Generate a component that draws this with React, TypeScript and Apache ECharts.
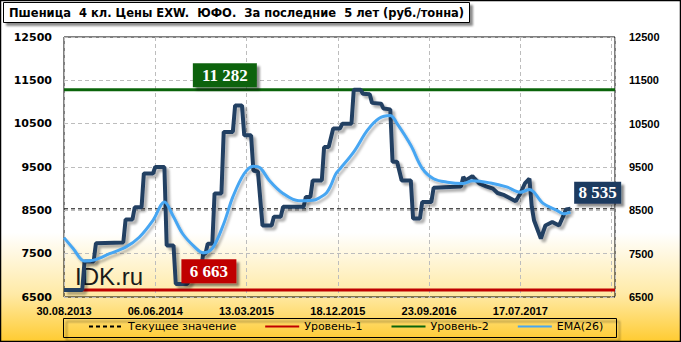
import React, { useEffect, useRef } from "react";
import * as echarts from "echarts";

// ---- data ----
const titleText = "Пшеница  4 кл. Цены EXW.  ЮФО.  За последние  5 лет (руб./тонна)";
const xTickLabels = ["30.08.2013", "06.06.2014", "13.03.2015", "18.12.2015", "23.09.2016", "17.07.2017"];
const weeksPerTick = 40;
const weekAxisMax = 241.5;
const yMin = 6500;
const yMax = 12500;
const yStep = 1000;

const priceWeeks = [
  0, 8, 9, 13, 14, 26, 27, 30, 31, 34, 35, 39, 40, 43, 44, 45, 48, 49, 54, 57, 60, 61, 62, 63, 65,
  66, 69, 70, 74, 75, 78, 79, 82, 83, 85, 87, 91, 92, 95, 96, 105, 106, 108, 109, 113, 114, 116,
  118, 121, 122, 126, 127, 130, 131, 134, 135, 139, 140, 143, 144, 146, 148, 152, 153, 156, 157,
  161, 162, 174, 175, 176, 179, 180, 182, 185, 188, 190, 193, 198, 200, 202, 204, 205, 206, 209,
  211, 214, 217, 219, 220, 222,
];
const priceValues = [
  6663, 6663, 7320, 7320, 7740, 7760, 8290, 8290, 8570, 8570, 9350, 9350, 9500, 9500, 9500, 7690,
  7690, 6800, 6800, 7100, 7100, 7500, 7500, 7730, 7730, 8890, 8890, 10310, 10310, 10920, 10920,
  10230, 10230, 9420, 9390, 8150, 8150, 8350, 8350, 8580, 8580, 8810, 8810, 9190, 9190, 9960, 9960,
  10390, 10390, 10500, 10500, 11282, 11282, 11190, 11180, 10980, 10960, 10850, 10830, 9620, 9620,
  9190, 9190, 8310, 8310, 8690, 8690, 9020, 9050, 9270, 9190, 9290, 9230, 9120, 9055, 9000, 8900,
  8850, 8710, 8890, 9120, 9230, 8590, 8270, 7850, 8150, 8230, 8150, 8390, 8520, 8535,
];

const emaWeeks = [
  0, 4, 9, 13, 20, 27, 33, 39, 44, 48, 52, 57, 61, 65, 70, 74, 79, 83, 86, 90, 96, 103, 109, 112,
  115, 117, 119, 121, 127, 133, 138, 143, 146, 152, 157, 162, 168, 175, 179, 187, 194, 200, 204,
  210, 216, 219, 222,
];
const emaValues = [
  7870, 7620, 7330, 7350, 7500, 7650, 7880, 8270, 8690, 8350, 7960, 7670, 7520, 7620, 8190, 8810,
  9350, 9520, 9480, 9190, 8890, 8720, 8730, 8790, 8900, 9080, 9330, 9460, 9850, 10350, 10620, 10690,
  10500, 10000, 9470, 9230, 9150, 9120, 9180, 9130, 9040, 8920, 8980, 8660, 8500, 8420, 8460,
];

const currentValue = 8535;
const level1 = 6663;
const level2 = 11282;

const seriesNames = ["Текущее значение", "Уровень-1", "Уровень-2", "EMA(26)"];

// ---- helpers ----
const fmt = (n: number) => String(n).replace(/\B(?=(\d{3})+(?!\d))/g, " ");
const pairs = (xs: number[], ys: number[]) => xs.map((x, i) => [x, ys[i]]);
const flat = (v: number) => [
  [0, v],
  [weekAxisMax, v],
];

const boxShadow = {
  shadowColor: "rgba(0,0,0,0.45)",
  shadowBlur: 2,
  shadowOffsetX: 3,
  shadowOffsetY: 3,
};

const labelPoint = (coord: number[], text: string, color: string, size: number[]) => ({
  coord,
  symbol: "rect",
  symbolSize: size,
  itemStyle: { color, ...boxShadow },
  label: {
    show: true,
    position: "inside",
    formatter: text,
    color: "#ffffff",
    fontFamily: "Liberation Serif",
    fontWeight: "bold",
    fontSize: 17,
  },
});

export default function App() {
  const ref = useRef<HTMLDivElement>(null);

  useEffect(() => {
    if (!ref.current) return;
    const chart = echarts.init(ref.current, null, { renderer: "svg" });

    const option: any = {
      animation: false,
      backgroundColor: new echarts.graphic.LinearGradient(0, 0, 0, 1, [
        { offset: 0, color: "#ffffff" },
        { offset: 0.68, color: "#ffffff" },
        { offset: 0.86, color: "#ffeaa6" },
        { offset: 1, color: "#ffcb30" },
      ]),
      title: {
        text: titleText,
        left: 3,
        top: 2,
        padding: [4, 6, 4, 6],
        backgroundColor: "#ffffff",
        borderColor: "#000000",
        borderWidth: 1,
        ...boxShadow,
        textStyle: {
          fontFamily: "DejaVu Sans",
          fontWeight: "bold",
          fontSize: 11.5,
          color: "#000000",
          lineHeight: 13,
        },
      },
      graphic: [
        {
          type: "rect",
          z: 0,
          shape: { x: 0.5, y: 0.5, width: 680, height: 341 },
          style: { fill: "none", stroke: "#000000", lineWidth: 1.5 },
        },
        {
          type: "rect",
          z: 0,
          shape: { x: 63.5, y: 318.5, width: 553, height: 19 },
          style: { fill: "none", stroke: "#000000", lineWidth: 1, ...boxShadow },
        },
        {
          type: "text",
          z: 3,
          x: 75,
          y: 276,
          style: {
            text: "IDK.ru",
            font: '24px "Liberation Sans"',
            fill: "#1a1a1a",
            verticalAlign: "middle",
          },
        },
      ],
      legend: {
        data: seriesNames,
        left: 88,
        top: 321,
        padding: 0,
        itemGap: 28,
        itemWidth: 34,
        itemHeight: 2,
        itemStyle: { opacity: 0 },
        textStyle: { fontFamily: "DejaVu Sans", fontSize: 11, color: "#000000", padding: [5, 0, 5, 0] },
      },
      grid: {
        left: 64,
        top: 37,
        width: 551,
        height: 260,
        show: true,
        borderColor: "#000000",
        borderWidth: 1,
        backgroundColor: "transparent",
      },
      xAxis: {
        type: "value",
        min: 0,
        max: weekAxisMax,
        interval: weeksPerTick,
        axisLine: { show: false },
        axisTick: { show: false },
        splitLine: { show: true, lineStyle: { color: "#bdbdbd", type: [4, 3], width: 1 } },
        axisLabel: {
          margin: 8,
          fontFamily: "Liberation Sans",
          fontWeight: "bold",
          fontSize: 11,
          color: "#000000",
          showMaxLabel: false,
          formatter: (v: number) => {
            const i = v / weeksPerTick;
            return Number.isInteger(i) && i < xTickLabels.length ? xTickLabels[i] : "";
          },
        },
      },
      yAxis: [
        {
          type: "value",
          position: "left",
          min: yMin,
          max: yMax,
          interval: yStep,
          axisLine: { show: false },
          axisTick: { show: false },
          splitLine: { show: true, lineStyle: { color: "#bdbdbd", type: [4, 3], width: 1 } },
          axisLabel: {
            margin: 12,
            fontFamily: "DejaVu Sans",
            fontWeight: "bold",
            fontSize: 11,
            color: "#000000",
            formatter: (v: number) => String(v),
          },
        },
        {
          type: "value",
          position: "right",
          min: yMin,
          max: yMax,
          interval: yStep,
          axisLine: { show: false },
          axisTick: { show: false },
          splitLine: { show: false },
          axisLabel: {
            margin: 14,
            fontFamily: "Liberation Sans",
            fontWeight: "bold",
            fontSize: 11,
            color: "#000000",
            formatter: (v: number) => String(v),
          },
        },
      ],
      series: [
        {
          name: "Текущее значение",
          type: "line",
          symbol: "none",
          z: 3,
          data: flat(currentValue),
          lineStyle: { color: "#000000", width: 1, type: [4, 3] },
          itemStyle: { color: "#000000" },
          markPoint: {
            silent: true,
            data: [labelPoint([233.9, 8905], fmt(currentValue), "#1f3a60", [47, 22])],
          },
        },
        {
          name: "Уровень-1",
          type: "line",
          symbol: "none",
          z: 3,
          data: flat(level1),
          lineStyle: { color: "#c00000", width: 3 },
          itemStyle: { color: "#c00000" },
          markPoint: {
            silent: true,
            data: [labelPoint([63.5, 7093], fmt(level1), "#c00000", [55, 24])],
          },
        },
        {
          name: "Уровень-2",
          type: "line",
          symbol: "none",
          z: 3,
          data: flat(level2),
          lineStyle: { color: "#0a640a", width: 3 },
          itemStyle: { color: "#0a640a" },
          markPoint: {
            silent: true,
            data: [labelPoint([70.5, 11617], fmt(level2), "#0a640a", [64, 24])],
          },
        },
        {
          name: "Цена",
          type: "line",
          symbol: "none",
          z: 4,
          data: pairs(priceWeeks, priceValues),
          lineStyle: {
            color: "#243f62",
            width: 4,
            shadowColor: "rgba(0,0,0,0.3)",
            shadowBlur: 2,
            shadowOffsetX: 3,
            shadowOffsetY: 3,
          },
          itemStyle: { color: "#243f62" },
        },
        {
          name: "EMA(26)",
          type: "line",
          symbol: "none",
          smooth: 0.35,
          z: 5,
          data: pairs(emaWeeks, emaValues),
          lineStyle: {
            color: "#47a6f2",
            width: 3,
            shadowColor: "rgba(0,0,0,0.25)",
            shadowBlur: 2,
            shadowOffsetX: 2,
            shadowOffsetY: 3,
          },
          itemStyle: { color: "#47a6f2" },
        },
      ],
    };

    chart.setOption(option);
    return () => chart.dispose();
  }, []);

  return (
    <div
      ref={ref}
      style={{ position: "absolute", left: 0, top: 0, width: 681, height: 342 }}
    />
  );
}
